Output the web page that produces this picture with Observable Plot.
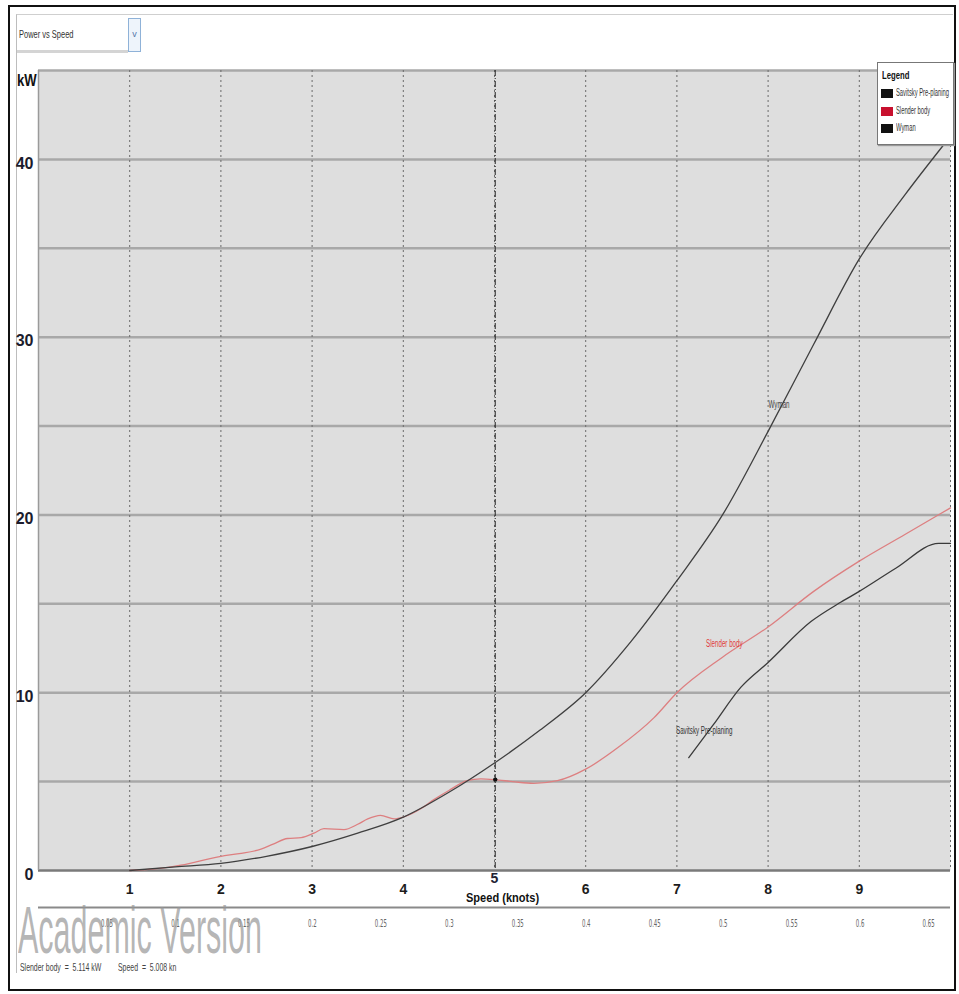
<!DOCTYPE html>
<html><head><meta charset="utf-8">
<script src="https://cdn.jsdelivr.net/npm/d3@7"></script>
<script src="https://cdn.jsdelivr.net/npm/@observablehq/plot@0.6"></script>
<style>
body{margin:0;background:#fff;}
#page{position:relative;width:959px;height:994px;overflow:hidden;font-family:"Liberation Sans",Arial,sans-serif;}
.abs{position:absolute;white-space:nowrap;}
.sx{transform-origin:left top;}
</style></head><body><div id="page">
<div class="abs" style="left:8px;top:5px;width:944px;height:982px;border:2px solid #111;"></div>
<div class="abs" style="left:16px;top:14px;width:936px;height:958px;border-left:1px solid #bdbdbd;border-top:1px solid #cfcfcf;"></div>
<div class="abs" style="left:17px;top:16px;width:111px;height:34px;border-bottom:3px solid #d4d4d4;background:#fff;"></div>
<div class="abs sx" id="dropText" style="left:19px;top:28px;font-size:11px;color:#333;transform:scaleX(0.68);">Power vs Speed</div>
<div class="abs" style="left:128px;top:18px;width:11px;height:32px;border:1px solid #8fb2d8;background:#eef4fb;color:#5577aa;font-size:9px;text-align:center;line-height:30px;">v</div>
<div id="main" class="abs" style="left:0;top:0;"></div>
<div id="froude" class="abs" style="left:0;top:900px;"></div>
<div class="abs sx" style="left:17px;top:72px;font-size:16px;font-weight:bold;color:#111;transform:scaleX(0.82);">kW</div>
<div class="abs sx" style="left:466px;top:890px;font-size:13px;font-weight:bold;color:#111;transform:scaleX(0.85);">Speed (knots)</div>
<div class="abs sx" style="left:18px;top:896px;font-size:67px;line-height:1;color:rgba(150,150,150,0.7);transform:scaleX(0.455);">Academic Version</div>
<div class="abs sx" style="left:20px;top:961px;font-size:11px;color:#444;transform:scaleX(0.63);">Slender body &nbsp;=&nbsp; 5.114 kW</div>
<div class="abs sx" style="left:118px;top:961px;font-size:11px;color:#444;transform:scaleX(0.63);">Speed &nbsp;=&nbsp; 5.008 kn</div>
<div id="legend" class="abs" style="left:877px;top:62px;width:75px;height:81px;background:#fff;border:1px solid #777;box-shadow:1px 1px 1px #999;"></div>
</div>
<script>
// ---- data ----
const speedWyman = [1, 1.5, 2, 2.5, 3, 3.5, 4, 4.5, 5, 5.5, 6, 6.5, 7, 7.5, 8, 8.5, 9, 9.5, 10];
const powerWyman = [0, 0.2, 0.4, 0.8, 1.35, 2.1, 3.0, 4.4, 6.05, 7.9, 10.0, 12.9, 16.3, 20.0, 24.7, 29.6, 34.4, 38.0, 41.3];

const speedSlender = [1, 1.3, 1.56, 2.0, 2.2, 2.44, 2.58, 2.73, 2.88, 3.02, 3.13, 3.35, 3.5, 3.61, 3.75, 3.9, 4.0, 4.2, 4.34, 4.5, 4.7, 4.85, 5.0, 5.2, 5.43, 5.69, 6.0, 6.35, 6.75, 7.0, 7.5, 8.0, 8.5, 9.0, 9.5, 10.0];
const powerSlender = [0, 0.1, 0.3, 0.8, 0.95, 1.2, 1.5, 1.8, 1.85, 2.1, 2.35, 2.3, 2.6, 2.9, 3.1, 2.9, 3.0, 3.5, 4.0, 4.5, 5.05, 5.15, 5.11, 5.0, 4.9, 5.05, 5.7, 6.9, 8.6, 10.0, 12.0, 13.7, 15.7, 17.4, 18.9, 20.4];

const speedSavitsky = [7.13, 7.4, 7.7, 8.0, 8.47, 8.8, 9.0, 9.4, 9.87, 10.0];
const powerSavitsky = [6.35, 8.2, 10.3, 11.7, 14.0, 15.1, 15.7, 17.0, 18.4, 18.4];

const seriesNames = ["Savitsky Pre-planing", "Slender body", "Wyman"];
const seriesColors = ["#111111", "#c8102e", "#111111"];
const lineColors = {"Savitsky Pre-planing": "#3a3a3a", "Slender body": "#dd7f80", "Wyman": "#3f3f3f"};

const curveLabels = [
  {name: "Wyman", speed: 8.12, power: 26.2, color: "#444"},
  {name: "Slender body", speed: 7.52, power: 12.75, color: "#e03a3a"},
  {name: "Savitsky Pre-planing", speed: 7.3, power: 7.87, color: "#333"}
];

const cursor = {speed: 5.008, power: 5.114};

const xTicks = [1, 2, 3, 4, 5, 6, 7, 8, 9];
const xGrid = [1, 2, 3, 4, 5, 6, 7, 8, 9, 10];
const yTicks = [0, 10, 20, 30, 40];
const yGrid = [5, 10, 15, 20, 25, 30, 35, 40, 45];
const xDomain = [0, 10];
const yDomain = [0, 45];
const froudeTicks = [0.05, 0.1, 0.15, 0.2, 0.25, 0.3, 0.35, 0.4, 0.45, 0.5, 0.55, 0.6, 0.65];
const froudeDomain = [0, 0.666];

// ---- build tidy table ----
const rows = [];
speedWyman.forEach((s, i) => rows.push({series: "Wyman", speed: s, power: powerWyman[i]}));
speedSlender.forEach((s, i) => rows.push({series: "Slender body", speed: s, power: powerSlender[i]}));
speedSavitsky.forEach((s, i) => rows.push({series: "Savitsky Pre-planing", speed: s, power: powerSavitsky[i]}));

const narrow = "'Liberation Sans Narrow','DejaVu Sans Condensed','Liberation Sans',Arial,sans-serif";

const main = Plot.plot({
  width: 959, height: 940,
  marginLeft: 38, marginRight: 9, marginTop: 70, marginBottom: 70,
  style: {background: "transparent", fontFamily: "'Liberation Sans',Arial,sans-serif"},
  x: {domain: xDomain},
  y: {domain: yDomain},
  marks: [
    Plot.frame({fill: "#dedede", stroke: null}),
    Plot.ruleY(yGrid, {stroke: "#a8a8a8", strokeWidth: 2.5}),
    Plot.ruleX(xGrid, {stroke: "#6a6a6a", strokeWidth: 1, strokeDasharray: "2,3"}),
    Plot.ruleX([cursor.speed], {stroke: "#222", strokeWidth: 1, strokeDasharray: "6,2,1,2"}),
    Plot.ruleY([0], {stroke: "#7a7a7a", strokeWidth: 2.5}),
    Plot.ruleX([0], {stroke: "#9a9a9a", strokeWidth: 1.5}),
    ...seriesNames.map(n => Plot.line(rows.filter(r => r.series === n), {
      x: "speed", y: "power", stroke: lineColors[n], strokeWidth: 1.3, curve: "monotone-x"
    })),
    Plot.dot([cursor], {x: "speed", y: "power", r: 2.2, fill: "#111"}),
    Plot.text(curveLabels, {x: "speed", y: "power", text: "name", fill: "color", fontSize: 10, className: "clabel"}),
    Plot.axisY(yTicks, {tickSize: 0, tickPadding: 5, fontSize: 16, fontWeight: "bold", fill: "#1c1c2c", label: null, dy: 4}),
    Plot.axisX(xTicks.filter(t => t !== 5), {tickSize: 0, tickPadding: 14, fontSize: 14, fontWeight: "bold", fill: "#1c1c1c", label: null}),
    Plot.axisX(xTicks.filter(t => t === 5), {tickSize: 0, tickPadding: 3, fontSize: 14, fontWeight: "bold", fill: "#223", label: null})
  ]
});
document.getElementById("main").appendChild(main);

const froude = Plot.plot({
  width: 959, height: 40,
  marginLeft: 38, marginRight: 9, marginTop: 7, marginBottom: 28,
  style: {background: "transparent", fontFamily: narrow},
  x: {domain: froudeDomain},
  y: {domain: [0, 1], axis: null},
  marks: [
    Plot.ruleY([1], {stroke: "#8a8a8a", strokeWidth: 2}),
    Plot.axisX(froudeTicks, {tickSize: 0, tickPadding: 7, fontSize: 10, fill: "#666", label: null, className: "flabel", tickFormat: d => String(d)})
  ]
});
document.getElementById("froude").appendChild(froude);

// condense small texts like the original's narrow font
function condense(sel, k) {
  d3.selectAll(sel).each(function() {
    const w = this.getComputedTextLength();
    if (w > 0) { this.setAttribute("textLength", (w * k).toFixed(1)); this.setAttribute("lengthAdjust", "spacingAndGlyphs"); }
  });
}
condense(".clabel text", 0.62);
condense(".flabel text", 0.6);

// legend
const lg = d3.select("#legend");
lg.append("div").attr("class", "abs sx").style("left", "4px").style("top", "6px")
  .style("font-size", "11px").style("font-weight", "bold").style("color", "#111")
  .style("transform", "scaleX(0.7)").text("Legend");
seriesNames.forEach((n, i) => {
  lg.append("div").attr("class", "abs").style("left", "3px").style("top", (26 + i * 17.5) + "px")
    .style("width", "12px").style("height", "9px").style("background", seriesColors[i]);
  lg.append("div").attr("class", "abs sx").style("left", "18px").style("top", (24 + i * 17.5) + "px")
    .style("font-size", "10px").style("color", "#333").style("transform", "scaleX(0.58)").text(n);
});
</script>
</body></html>
